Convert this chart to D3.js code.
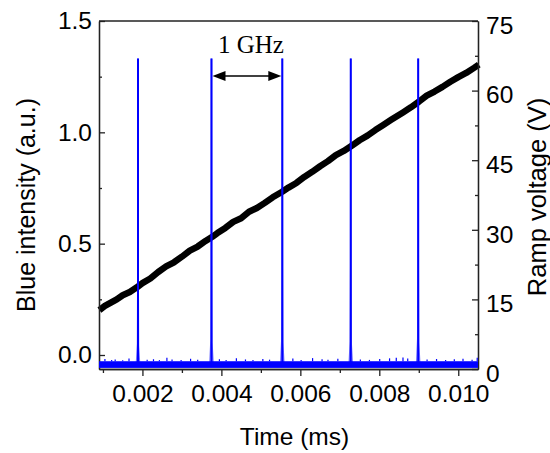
<!DOCTYPE html>
<html><head><meta charset="utf-8">
<script src="https://cdn.jsdelivr.net/npm/d3@7"></script>
<style>
html,body{margin:0;padding:0;background:#fff;}
svg{display:block;font-family:"Liberation Sans",Arial,sans-serif;}
</style></head>
<body><svg id="c" width="550" height="453"></svg>
<script>
// ---- data ----
const xTicks = [0.002, 0.004, 0.006, 0.008, 0.010];
const xMinorTicks = [0.001, 0.003, 0.005, 0.007, 0.009];
const leftTicks = [0.0, 0.5, 1.0, 1.5];
const leftMinorTicks = [0.25, 0.75, 1.25];
const rightTicks = [0, 15, 30, 45, 60, 75];
const rightMinorTicks = [7.5, 22.5, 37.5, 52.5, 67.5];

// ramp voltage (V) vs time (ms)
const rampTime = [0.00091,0.00105,0.0012,0.00135,0.0015,0.00168,0.00186,0.0020,0.0022,0.0024,0.0026,0.0028,0.0030,0.0032,0.0034,0.0036,0.00377,0.0039,0.0041,0.0043,0.0045,0.0047,0.0049,0.0051,0.0053,0.00554,0.0057,0.0059,0.0061,0.0063,0.0065,0.0067,0.0069,0.0071,0.0073,0.0075,0.0077,0.0079,0.0081,0.0083,0.0086,0.0088,0.0090,0.0092,0.0094,0.0096,0.0098,0.0100,0.0102,0.0104,0.01052];
const rampVolt = [12.7,13.6,14.3,15.0,15.9,16.6,17.6,18.5,19.5,20.9,22.1,23.0,24.2,25.5,26.4,27.6,28.5,29.3,30.4,31.7,32.5,33.9,34.7,35.8,37.0,38.2,39.1,40.1,41.4,42.5,43.7,44.8,46.1,47.0,48.1,49.3,50.3,51.5,52.6,53.7,55.3,56.4,57.6,58.9,59.8,60.8,61.9,62.9,63.8,64.9,65.6];

// blue intensity peaks
const peakTimes = [0.001888, 0.003749, 0.005543, 0.007277, 0.008985];
const peakHeights = [1.332, 1.332, 1.332, 1.332, 1.332];
const peakFootHeights = [0.05, 0.07, 0.07, 0.06, 0.07];
const baseLevel = -0.042;
const bandLow = -0.058, bandHigh = -0.028;
// small noise spikes on the baseline
const noiseTimes = [0.00105,0.00122,0.00131,0.00150,0.00166,0.00212,0.00228,0.00243,0.00262,0.00275,0.00298,0.00322,0.00340,0.00395,0.00412,0.00438,0.00461,0.00480,0.00505,0.00522,0.00581,0.00602,0.00631,0.00655,0.00670,0.00695,0.00752,0.00775,0.00801,0.00826,0.00843,0.00860,0.00872,0.00921,0.00945,0.00968,0.00990,0.01012,0.01035,0.01048];
const noiseTops = [-0.018,-0.022,-0.020,-0.024,-0.016,-0.021,-0.019,-0.023,-0.012,-0.020,-0.022,-0.017,-0.021,-0.019,-0.022,-0.015,-0.020,-0.023,-0.018,-0.021,-0.016,-0.022,-0.014,-0.019,-0.021,-0.017,-0.020,-0.022,-0.018,-0.015,-0.012,-0.011,-0.016,-0.020,-0.018,-0.022,-0.019,-0.017,-0.021,-0.012];

const annotText = "1 GHz";
const annotLevel = 1.253;
const annotTextLevel = 1.356;

// ---- layout ----
const svg = d3.select("#c");
const L = 99, R = 478, T = 21, B = 369;
const x = d3.scaleLinear().domain([0.0009, 0.0105]).range([L, R]);
const yL = d3.scaleLinear().domain([-0.0629, 1.5]).range([B, T]);
const yR = d3.scaleLinear().domain([0, 75]).range([B, T]);
const fs = 24.5;

// ramp line
const rampData = rampTime.map((t,i)=>[t, rampVolt[i]]);
const rampLine = d3.line().x(d=>x(d[0])).y(d=>yR(d[1]));
svg.append("path").datum(rampData)
  .attr("fill","none").attr("stroke","#000").attr("stroke-width",6.5)
  .attr("stroke-linejoin","round").attr("d", rampLine);

// axes frame lines and ticks
const axG = svg.append("g");
function style(g){
  g.select(".domain").attr("stroke","#222").attr("stroke-width",1.3);
  g.selectAll(".tick line").attr("stroke","#222").attr("stroke-width",1.3);
  g.selectAll(".tick text").attr("font-size",fs).attr("fill","#000")
    .attr("font-family","'Liberation Sans',Arial,sans-serif");
}
// bottom
const gb = axG.append("g").attr("transform",`translate(0,${B})`)
  .call(d3.axisBottom(x).tickValues(xTicks).tickFormat(d3.format(".3f")).tickSize(7).tickSizeOuter(0).tickPadding(9));
style(gb);
const gbm = axG.append("g").attr("transform",`translate(0,${B})`)
  .call(d3.axisBottom(x).tickValues(xMinorTicks).tickFormat("").tickSize(4).tickSizeOuter(0));
style(gbm);
// left
const gl = axG.append("g").attr("transform",`translate(${L},0)`)
  .call(d3.axisLeft(yL).tickValues(leftTicks).tickFormat(d3.format(".1f")).tickSize(-6).tickSizeOuter(0).tickPadding(7));
style(gl);
const glm = axG.append("g").attr("transform",`translate(${L},0)`)
  .call(d3.axisLeft(yL).tickValues(leftMinorTicks).tickFormat("").tickSize(-3).tickSizeOuter(0));
style(glm);
// right
const gr = axG.append("g").attr("transform",`translate(${R},0)`)
  .call(d3.axisRight(yR).tickValues(rightTicks).tickFormat(d3.format("d")).tickSize(-6).tickSizeOuter(0).tickPadding(8));
style(gr);
gr.selectAll(".tick text").attr("dy","0.5em");
const grm = axG.append("g").attr("transform",`translate(${R},0)`)
  .call(d3.axisRight(yR).tickValues(rightMinorTicks).tickFormat("").tickSize(-3).tickSizeOuter(0));
style(grm);
// top line
axG.append("line").attr("x1",L).attr("x2",R).attr("y1",T).attr("y2",T)
  .attr("stroke","#222").attr("stroke-width",1.3);

// blue baseline band
svg.append("rect").attr("x",x(0.0009)).attr("width",x(0.0105)-x(0.0009))
  .attr("y",yL(bandHigh)).attr("height",yL(bandLow)-yL(bandHigh)).attr("fill","#0000ff");
svg.append("g").selectAll("line").data(noiseTimes).join("line")
  .attr("x1",d=>x(d)).attr("x2",d=>x(d))
  .attr("y1",yL(bandHigh)).attr("y2",(d,i)=>yL(noiseTops[i]))
  .attr("stroke","#0000ff").attr("stroke-width",1.2);
// peaks
const pk = svg.append("g");
peakTimes.forEach((t,i)=>{
  const foot = [[t-0.00004, baseLevel],[t-0.000012, peakFootHeights[i]],[t-0.000004, peakHeights[i]*0.3],[t, peakHeights[i]],[t+0.000004, peakHeights[i]*0.3],[t+0.000012, peakFootHeights[i]*0.8],[t+0.00004, baseLevel]];
  pk.append("path").datum(foot).attr("fill","none").attr("stroke","#0000ff").attr("stroke-opacity",0.55)
    .attr("stroke-width",1.5).attr("d", d3.line().x(d=>x(d[0])).y(d=>yL(d[1])));
  pk.append("line").attr("x1",x(t)).attr("x2",x(t)).attr("y1",yL(baseLevel)).attr("y2",yL(peakHeights[i]))
    .attr("stroke","#0000ff").attr("stroke-width",2);
});

// annotation arrow
const ax1 = x(peakTimes[1]), ax2 = x(peakTimes[2]), ay = yL(annotLevel);
svg.append("line").attr("x1",ax1+10).attr("x2",ax2-10).attr("y1",ay).attr("y2",ay)
  .attr("stroke","#000").attr("stroke-width",1.5);
svg.append("path").attr("d",`M${ax1+1},${ay}L${ax1+14},${ay-5}L${ax1+14},${ay+5}Z`).attr("fill","#000");
svg.append("path").attr("d",`M${ax2-1},${ay}L${ax2-14},${ay-5}L${ax2-14},${ay+5}Z`).attr("fill","#000");
svg.append("text").attr("x",(ax1+ax2)/2+4).attr("y",yL(annotTextLevel))
  .attr("text-anchor","middle").attr("font-family","'Liberation Serif','Times New Roman',serif")
  .attr("font-size",25).text(annotText);

// axis titles
svg.append("text").attr("x",(L+R)/2+6).attr("y",445).attr("text-anchor","middle")
  .attr("font-size",24.5).text("Time (ms)");
svg.append("text").attr("transform",`translate(35,${(T+B)/2+10}) rotate(-90)`)
  .attr("text-anchor","middle").attr("font-size",25).text("Blue intensity (a.u.)");
svg.append("text").attr("transform",`translate(546,${(T+B)/2+2}) rotate(-90)`)
  .attr("text-anchor","middle").attr("font-size",25.5).text("Ramp voltage (V)");
</script></body></html>
